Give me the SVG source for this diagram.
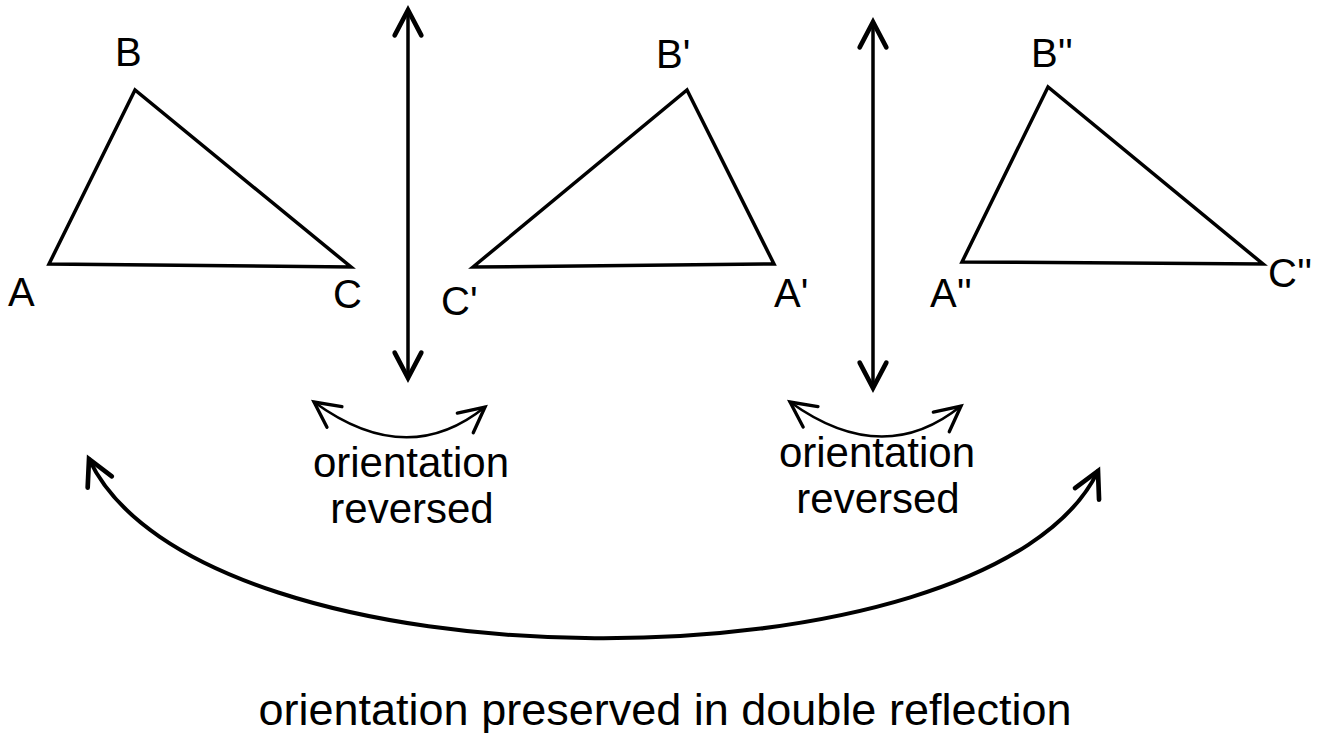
<svg xmlns="http://www.w3.org/2000/svg" width="1327" height="733" viewBox="0 0 1327 733">
<style>
.tri{fill:none;stroke:#000;stroke-width:3.5;stroke-linejoin:miter}
.lbl{font-family:"Liberation Sans",Arial,sans-serif;font-size:40px;fill:#000}
.cap{font-family:"Liberation Sans",Arial,sans-serif;font-size:42px;fill:#000;text-anchor:middle}
.big{font-family:"Liberation Sans",Arial,sans-serif;font-size:45px;fill:#000;text-anchor:middle}
.ln{fill:none;stroke:#000;stroke-linecap:round}
</style>
<defs>
<marker id="ah" markerUnits="userSpaceOnUse" markerWidth="40" markerHeight="40" refX="0" refY="0" viewBox="-25 -15 30 30" orient="auto-start-reverse" overflow="visible">
<path d="M-19,-10 L0,0 L-19,10" fill="none" stroke="#000" stroke-width="3.5" stroke-linecap="round" stroke-linejoin="miter"/>
</marker>
<marker id="ahs" markerUnits="userSpaceOnUse" markerWidth="40" markerHeight="40" refX="0" refY="0" viewBox="-25 -15 30 30" orient="auto-start-reverse" overflow="visible">
<path d="M-19,-9.5 L0,0 L-19,9.5" fill="none" stroke="#000" stroke-width="2.5" stroke-linecap="round" stroke-linejoin="miter"/>
</marker>
</defs>
<rect width="1327" height="733" fill="#fff"/>
<g id="triangle1">
<polygon class="tri" points="49,264 135,90 351,267"/>
<text class="lbl" x="8" y="306">A</text>
<text class="lbl" x="115" y="66">B</text>
<text class="lbl" x="333" y="308">C</text>
</g>
<g id="triangle2">
<polygon class="tri" points="473,267 687,90 774,264"/>
<text class="lbl" x="441" y="315">C'</text>
<text class="lbl" x="774" y="307">A'</text>
<text class="lbl" x="656" y="68">B'</text>
</g>
<g id="triangle3">
<polygon class="tri" points="962,262 1048,87 1263,264"/>
<text class="lbl" x="930" y="307">A''</text>
<text class="lbl" x="1031" y="67">B''</text>
<text class="lbl" x="1268" y="287">C''</text>
</g>
<g id="connectors">
<path class="ln" d="M408,10 L408,378" stroke-width="3.5" marker-start="url(#ah)" marker-end="url(#ah)"/>
<path class="ln" d="M873,22 L873,388" stroke-width="3.5" marker-start="url(#ah)" marker-end="url(#ah)"/>
<path class="ln" d="M314,402 Q407,470 485,407" stroke-width="2.5" marker-start="url(#ahs)" marker-end="url(#ahs)"/>
<path class="ln" d="M790,402 Q883,469 961,406" stroke-width="2.5" marker-start="url(#ahs)" marker-end="url(#ahs)"/>
<path class="ln" d="M89,459 C200,696 990,696 1098,471" stroke-width="4" marker-start="url(#ah)" marker-end="url(#ah)"/>
</g>
<g id="labels">
<text class="cap" x="411" y="477">orientation</text>
<text class="cap" x="412" y="523">reversed</text>
<text class="cap" x="877" y="467">orientation</text>
<text class="cap" x="878" y="513">reversed</text>
<text class="big" x="665" y="725">orientation preserved in double reflection</text>
</g>
</svg>
